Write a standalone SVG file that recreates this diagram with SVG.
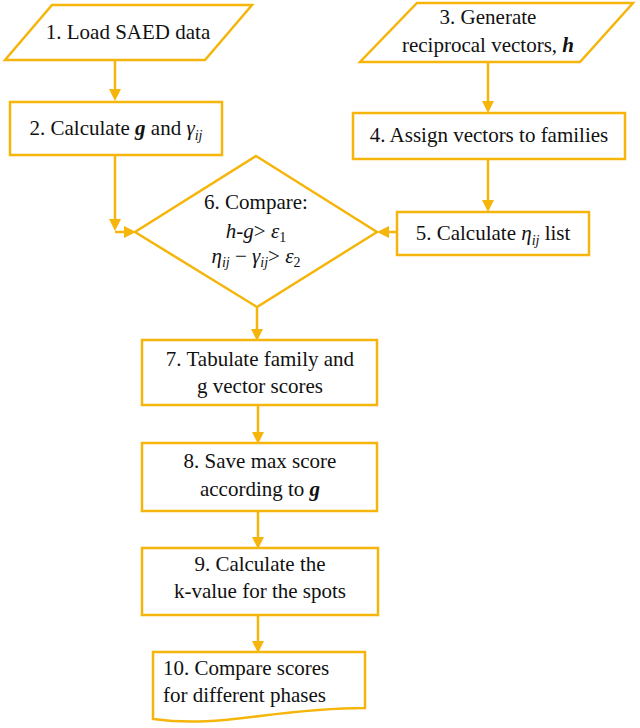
<svg xmlns="http://www.w3.org/2000/svg" width="640" height="728" viewBox="0 0 640 728">
<rect width="640" height="728" fill="#fff"/>
<g id="connectors" fill="none" stroke="#F5B50A" stroke-width="2.5">
<path d="M115,61 V92"/>
<path d="M488,63 V104"/>
<path d="M488,160 V204"/>
<path d="M115,156 V222"/>
<path d="M115,232 H128"/>
<path d="M397,232 H385"/>
<path d="M257,307 V332"/>
<path d="M258,406 V435"/>
<path d="M258,512 V540"/>
<path d="M258,616 V644"/>
<g fill="#F5B50A" stroke="none">
<polygon points="109,89 121,89 115,101"/>
<polygon points="482,101 494,101 488,113"/>
<polygon points="482,200 494,200 488,212"/>
<polygon points="109,219 121,219 115,231"/>
<polygon points="124,226 124,238 136,232"/>
<polygon points="389,226 389,238 377,232"/>
<polygon points="251,329 263,329 257,341"/>
<polygon points="252,432 264,432 258,444"/>
<polygon points="252,537 264,537 258,549"/>
<polygon points="252,641 264,641 258,653"/>
</g>
</g>
<g id="nodes" fill="#fff" stroke="#F5B50A" stroke-width="2.5">
<polygon id="s1" points="52,5 252,5 205,60 5,60"/>
<rect id="s2" x="10" y="102" width="212" height="53"/>
<polygon id="s3" points="417,3 633,3 580,62 360,62"/>
<rect id="s4" x="353" y="113" width="272" height="46"/>
<rect id="s5" x="397" y="212" width="192" height="43"/>
<polygon id="s6" points="256,156 377,232 257,307 135,232"/>
<rect id="s7" x="142" y="340" width="235" height="65"/>
<rect id="s8" x="142" y="443" width="235" height="68"/>
<rect id="s9" x="142" y="548" width="236" height="67"/>
<path id="s10" d="M153,652 H365 V708 C 330,708 300,711 260,716 C 220,721 190,724 153,719 Z"/>
</g>
<g id="labels" fill="#111" font-family="'Liberation Serif', 'Times New Roman', Tinos, serif" font-size="21">
<text id="n1" x="128" y="39" text-anchor="middle">1. Load SAED data</text>
<text id="n2" x="116" y="135" text-anchor="middle">2. Calculate <tspan font-style="italic" font-weight="bold">g</tspan> and <tspan font-style="italic">&#947;</tspan><tspan font-style="italic" font-size="14" dy="5">ij</tspan></text>
<text x="488" y="24" text-anchor="middle">3. Generate</text>
<text x="488" y="52" text-anchor="middle">reciprocal vectors, <tspan font-style="italic" font-weight="bold">h</tspan></text>
<text id="n4" x="489" y="142" text-anchor="middle">4. Assign vectors to families</text>
<text id="n5" x="493" y="240" text-anchor="middle">5. Calculate <tspan font-style="italic">&#951;</tspan><tspan font-style="italic" font-size="14" dy="5">ij</tspan><tspan dy="-5"> list</tspan></text>
<text x="256" y="209" text-anchor="middle">6. Compare:</text>
<text x="256" y="238" text-anchor="middle"><tspan font-style="italic">h</tspan>-<tspan font-style="italic">g</tspan>&gt; <tspan font-style="italic">&#949;</tspan><tspan font-size="14" dy="4">1</tspan></text>
<text x="256" y="263" text-anchor="middle"><tspan font-style="italic">&#951;</tspan><tspan font-style="italic" font-size="14" dy="4">ij</tspan><tspan dy="-4"> &#8722; </tspan><tspan font-style="italic">&#947;</tspan><tspan font-style="italic" font-size="14" dy="4">ij</tspan><tspan dy="-4">&gt; </tspan><tspan font-style="italic">&#949;</tspan><tspan font-size="14" dy="4">2</tspan></text>
<text x="260" y="366" text-anchor="middle">7. Tabulate family and</text>
<text x="260" y="393" text-anchor="middle">g vector scores</text>
<text x="260" y="468" text-anchor="middle">8. Save max score</text>
<text x="260" y="496" text-anchor="middle">according to <tspan font-style="italic" font-weight="bold">g</tspan></text>
<text x="260" y="571" text-anchor="middle">9. Calculate the</text>
<text x="260" y="598" text-anchor="middle">k-value for the spots</text>
<text x="163" y="675">10. Compare scores</text>
<text x="163" y="702">for different phases</text>
</g>
</svg>
